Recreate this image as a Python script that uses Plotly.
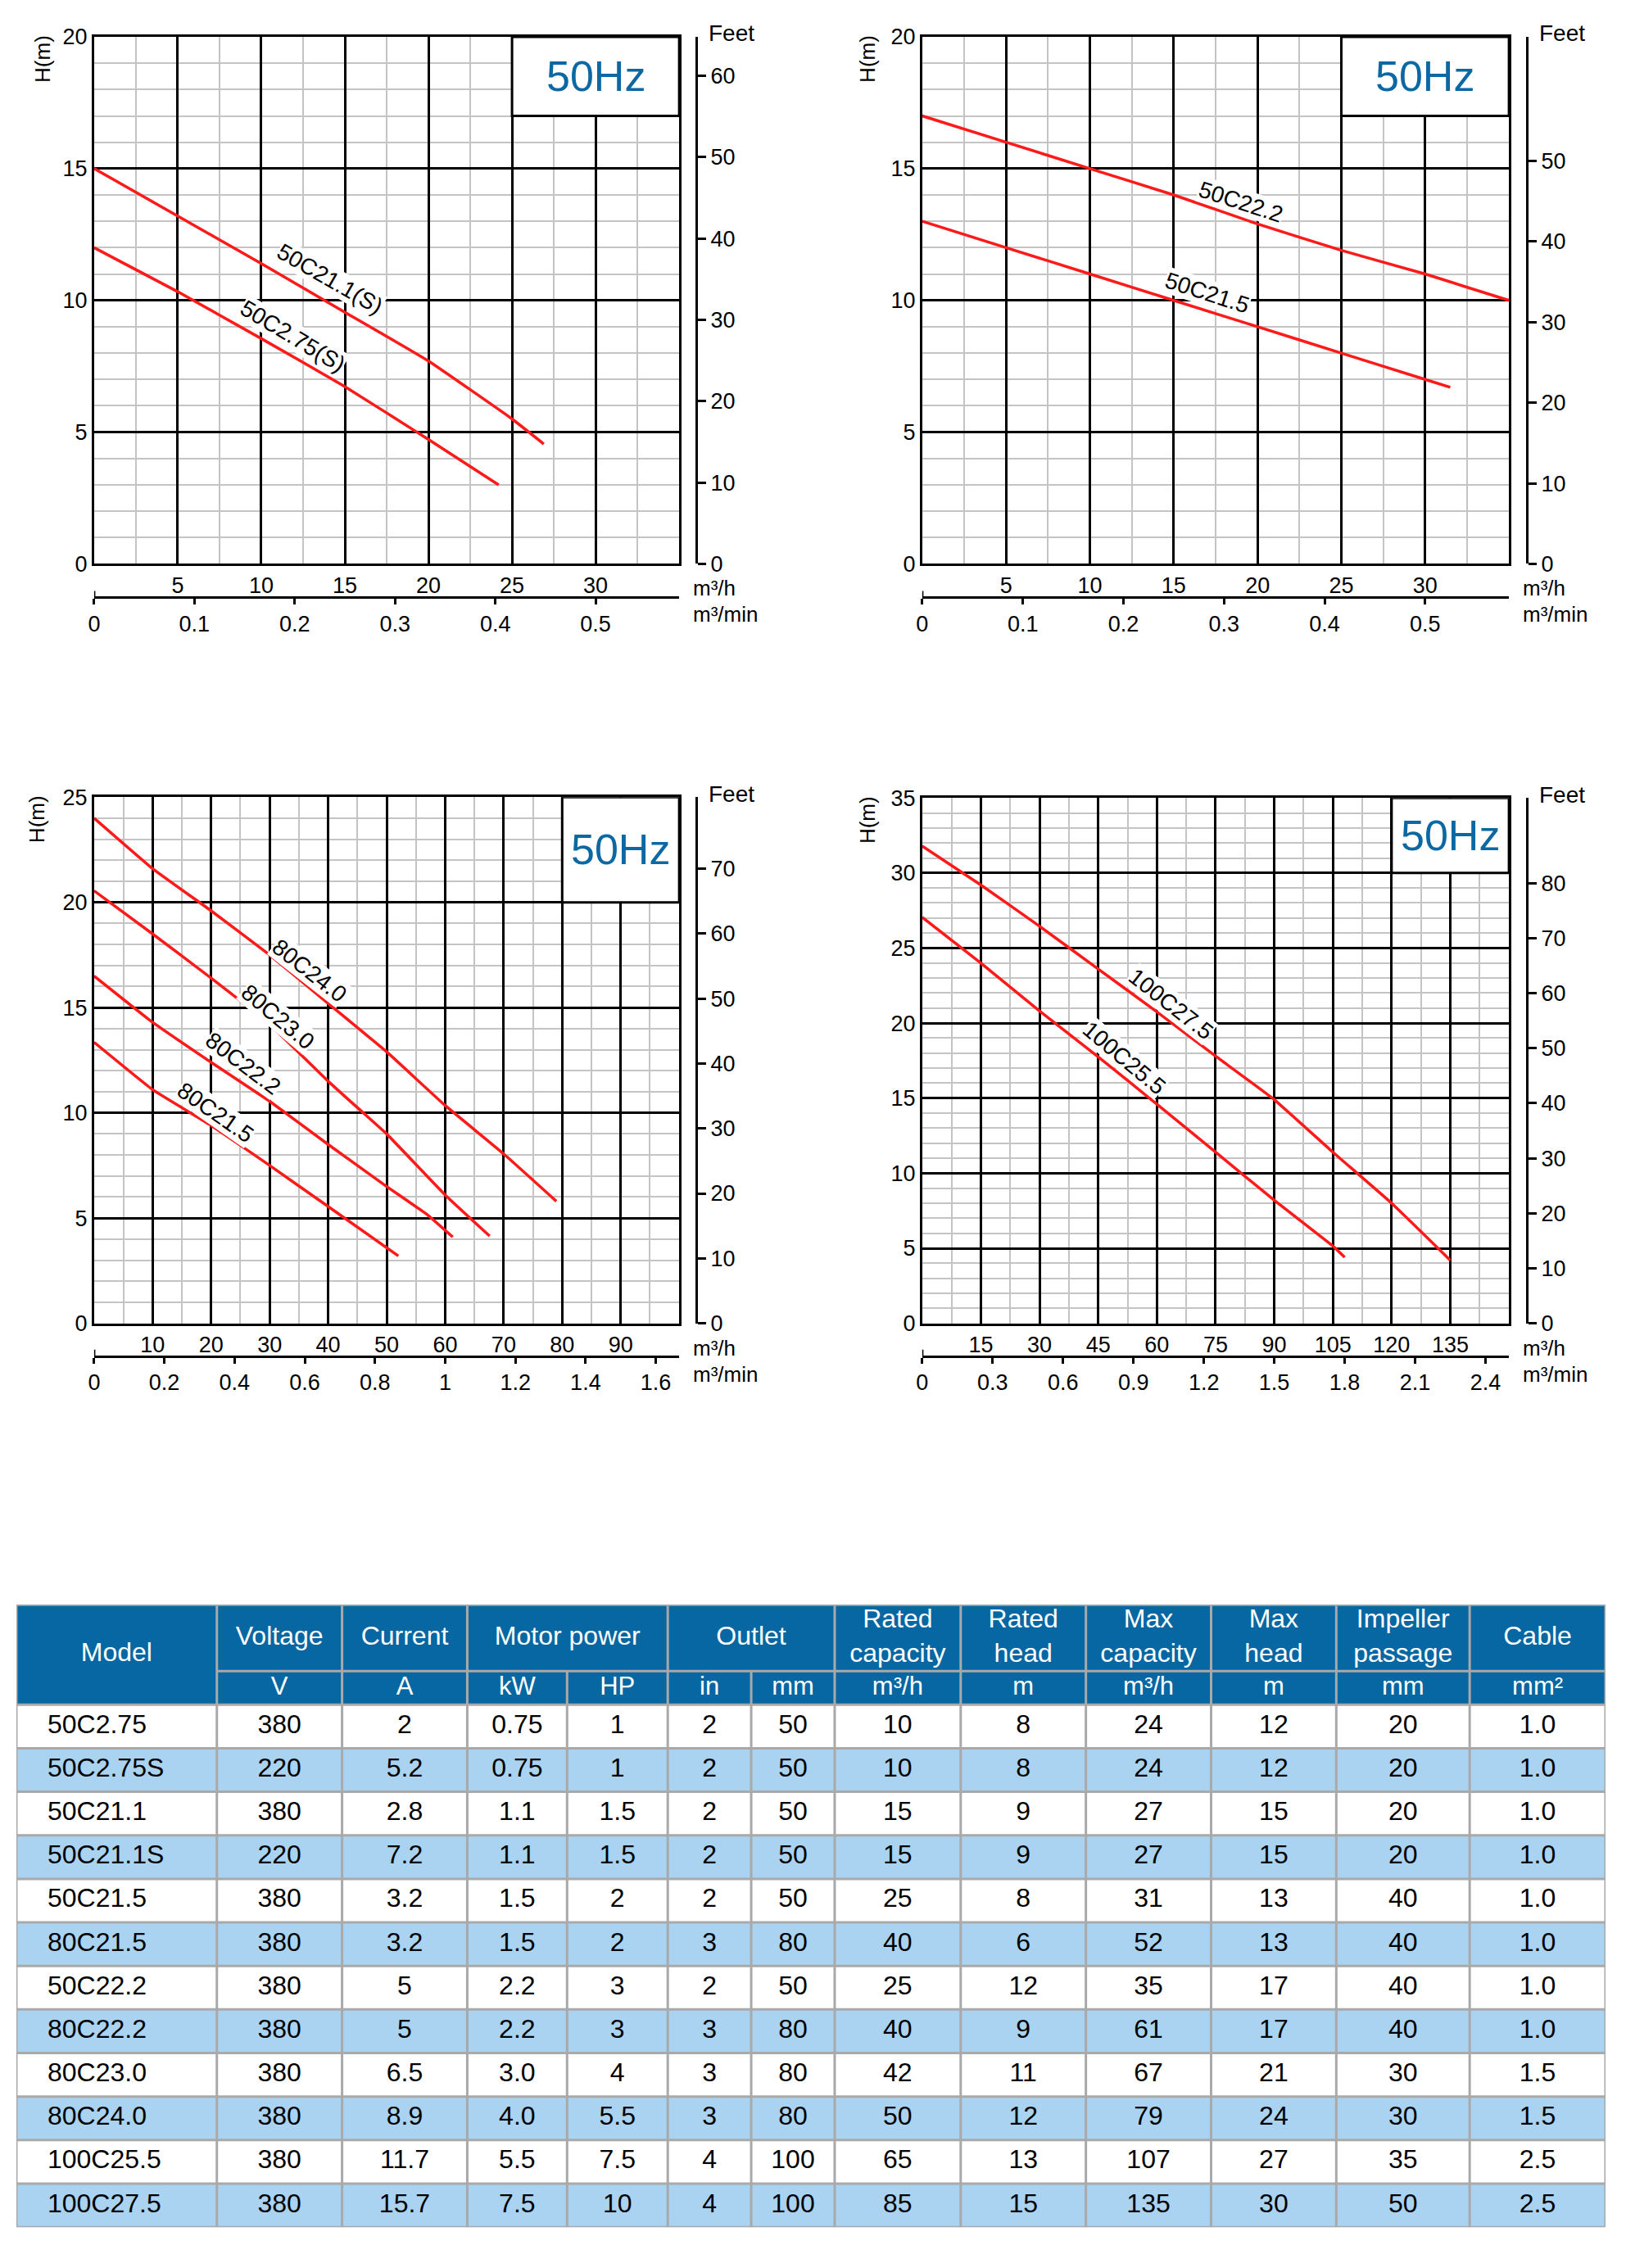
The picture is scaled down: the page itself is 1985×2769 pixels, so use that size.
import plotly.graph_objects as go

W, H = 1985, 2769
# page placement correction (html body margin / screenshot framing)
X_SHIFT, X_SCALE = 16, 0.997
Y_SHIFT, Y_SCALE = 20, 0.99
FONT = "Liberation Sans, Arial, sans-serif"
RED = "#ff1a1a"
HZ_BLUE = "#0b68a3"
HEAD_BLUE = "#0767a2"
ROW_BLUE = "#a9d3f1"
GRID_GRAY = "#c4c4c4"
CELL_LINE = "#a9a9a9"

# ---- pump curves (flow m3/h, head m) ----
Q_50C21_1 = [0, 5, 10, 15, 20, 25, 26.9]
H_50C21_1 = [15, 13.2, 11.4, 9.55, 7.7, 5.5, 4.55]
Q_50C2_75 = [0, 5, 10, 15, 20, 24.2]
H_50C2_75 = [12, 10.33, 8.55, 6.73, 4.72, 3.0]

Q_50C22_2 = [0, 5, 10, 15, 20, 25, 30, 35]
H_50C22_2 = [17, 16, 15, 14, 12.9, 11.9, 11, 10]
Q_50C21_5 = [0, 5, 10, 15, 20, 25, 30, 31.5]
H_50C21_5 = [13, 12, 11, 10, 9, 8, 7, 6.7]

Q_80C24_0 = [0, 10, 20, 30, 40, 50, 60, 70, 79]
H_80C24_0 = [24, 21.6, 19.6, 17.5, 15.2, 12.9, 10.35, 8.05, 5.8]
Q_80C23_0 = [0, 10, 20, 30, 40, 46, 50, 60, 67.6]
H_80C23_0 = [20.55, 18.5, 16.4, 14.2, 11.5, 10.0, 9.0, 6.1, 4.15]
Q_80C22_2 = [0, 10, 20, 30, 40, 50, 57, 61.3]
H_80C22_2 = [16.5, 14.3, 12.4, 10.55, 8.5, 6.5, 5.15, 4.1]
Q_80C21_5 = [0, 10, 20, 30, 40, 52]
H_80C21_5 = [13.35, 11.1, 9.4, 7.5, 5.55, 3.2]

Q_100C27_5 = [0, 15, 30, 45, 60, 75, 90, 105, 120, 135]
H_100C27_5 = [31.8, 29.2, 26.45, 23.6, 20.75, 17.8, 14.9, 11.4, 8.0, 4.2]
Q_100C25_5 = [0, 15, 30, 45, 60, 75, 90, 105, 108]
H_100C25_5 = [27.05, 24.0, 20.8, 17.75, 14.6, 11.4, 8.2, 5.15, 4.4]

# ---- axis ticks ----
QH_TICKS_A = [5, 10, 15, 20, 25, 30]
QM_TICKS_A = [0, 0.1, 0.2, 0.3, 0.4, 0.5]
H_TICKS_A = [0, 5, 10, 15, 20]
FT_TICKS_A = [0, 10, 20, 30, 40, 50, 60]
FT_TICKS_B = [0, 10, 20, 30, 40, 50]

QH_TICKS_C = [10, 20, 30, 40, 50, 60, 70, 80, 90]
QM_TICKS_C = [0, 0.2, 0.4, 0.6, 0.8, 1.0, 1.2, 1.4, 1.6]
H_TICKS_C = [0, 5, 10, 15, 20, 25]
FT_TICKS_C = [0, 10, 20, 30, 40, 50, 60, 70]

QH_TICKS_D = [15, 30, 45, 60, 75, 90, 105, 120, 135]
QM_TICKS_D = [0, 0.3, 0.6, 0.9, 1.2, 1.5, 1.8, 2.1, 2.4]
H_TICKS_D = [0, 5, 10, 15, 20, 25, 30, 35]
FT_TICKS_D = [0, 10, 20, 30, 40, 50, 60, 70, 80]

# ---- table data ----
MODEL = ["50C2.75", "50C2.75S", "50C21.1", "50C21.1S", "50C21.5", "80C21.5",
         "50C22.2", "80C22.2", "80C23.0", "80C24.0", "100C25.5", "100C27.5"]
VOLTAGE = [380, 220, 380, 220, 380, 380, 380, 380, 380, 380, 380, 380]
CURRENT = ["2", "5.2", "2.8", "7.2", "3.2", "3.2", "5", "5", "6.5", "8.9", "11.7", "15.7"]
POWER_KW = ["0.75", "0.75", "1.1", "1.1", "1.5", "1.5", "2.2", "2.2", "3.0", "4.0", "5.5", "7.5"]
POWER_HP = ["1", "1", "1.5", "1.5", "2", "2", "3", "3", "4", "5.5", "7.5", "10"]
OUTLET_IN = [2, 2, 2, 2, 2, 3, 2, 3, 3, 3, 4, 4]
OUTLET_MM = [50, 50, 50, 50, 50, 80, 50, 80, 80, 80, 100, 100]
RATED_CAP = [10, 10, 15, 15, 25, 40, 25, 40, 42, 50, 65, 85]
RATED_HEAD = [8, 8, 9, 9, 8, 6, 12, 9, 11, 12, 13, 15]
MAX_CAP = [24, 24, 27, 27, 31, 52, 35, 61, 67, 79, 107, 135]
MAX_HEAD = [12, 12, 15, 15, 13, 13, 17, 17, 21, 24, 27, 30]
IMPELLER = [20, 20, 20, 20, 40, 40, 40, 40, 30, 30, 35, 50]
CABLE = ["1.0", "1.0", "1.0", "1.0", "1.0", "1.0", "1.0", "1.0", "1.5", "1.5", "2.5", "2.5"]

HEADER_TOP = ["Model", "Voltage", "Current", "Motor power", "Outlet", "Rated<br>capacity",
              "Rated<br>head", "Max<br>capacity", "Max<br>head", "Impeller<br>passage", "Cable"]
HEADER_SPAN = [1, 1, 1, 2, 2, 1, 1, 1, 1, 1, 1]
HEADER_UNITS = ["", "V", "A", "kW", "HP", "in", "mm", "m³/h", "m", "m³/h", "m", "mm", "mm²"]

CHARTS = [
    dict(plot=(115, 830, 42, 686), feet_x=851, min_y=727, xmax=35, xminor=2.5, ymax=20,
         feet_max=64.8, qh=QH_TICKS_A, qm=QM_TICKS_A, h=H_TICKS_A, ft=FT_TICKS_A,
         box=(25, 35, 17, 20), hm_dx=-63,
         curves=[("50C21.1(S)", Q_50C21_1, H_50C21_1, 14.1, 10.8, 30),
                 ("50C2.75(S)", Q_50C2_75, H_50C2_75, 11.9, 8.65, 31)]),
    dict(plot=(1127, 1844, 42, 686), feet_x=1866, min_y=727, xmax=35, xminor=2.5, ymax=20,
         feet_max=65.4, qh=QH_TICKS_A, qm=QM_TICKS_A, h=H_TICKS_A, ft=FT_TICKS_B,
         box=(25, 35, 17, 20), hm_dx=-67,
         curves=[("50C22.2", Q_50C22_2, H_50C22_2, 19.0, 13.75, 18),
                 ("50C21.5", Q_50C21_5, H_50C21_5, 17.0, 10.3, 18)]),
    dict(plot=(115, 830, 971, 1614), feet_x=851, min_y=1654, xmax=100, xminor=5, ymax=25,
         feet_max=81, qh=QH_TICKS_C, qm=QM_TICKS_C, h=H_TICKS_C, ft=FT_TICKS_C,
         box=(80, 100, 20, 25), hm_dx=-70,
         curves=[("80C24.0", Q_80C24_0, H_80C24_0, 36.9, 16.75, 38),
                 ("80C23.0", Q_80C23_0, H_80C23_0, 31.4, 14.55, 40),
                 ("80C22.2", Q_80C22_2, H_80C22_2, 25.5, 12.35, 37),
                 ("80C21.5", Q_80C21_5, H_80C21_5, 20.8, 10.0, 35)]),
    dict(plot=(1127, 1844, 972, 1614), feet_x=1866, min_y=1654, xmax=150, xminor=7.5, ymax=35,
         feet_max=95.5, qh=QH_TICKS_D, qm=QM_TICKS_D, h=H_TICKS_D, ft=FT_TICKS_D,
         box=(120, 150, 30, 35), hm_dx=-67,
         curves=[("100C27.5", Q_100C27_5, H_100C27_5, 63.5, 21.3, 38),
                 ("100C25.5", Q_100C25_5, H_100C25_5, 51.6, 17.7, 40)]),
]


def fx(p):
    return ((p - X_SHIFT) / X_SCALE) / W


def fy(p):
    return 1 - ((p - Y_SHIFT) / Y_SCALE) / H


def ax(prefix, i):
    return prefix if i == 1 else f"{prefix}{i}"


fig = go.Figure()
layout = {}
shapes = []
annotations = []
tick_font = dict(family=FONT, size=27, color="black")

for k, c in enumerate(CHARTS):
    m, s = 2 * k + 1, 2 * k + 2
    L, R, T, B = c["plot"]

    for name, q, h, lx, ly, ang in c["curves"]:
        fig.add_trace(go.Scatter(x=q, y=h, mode="lines", name=name,
                                 line=dict(color=RED, width=3.5, shape="spline", smoothing=0.3),
                                 xaxis=ax("x", m), yaxis=ax("y", m),
                                 showlegend=False, hoverinfo="skip"))
        annotations.append(dict(text=name, x=lx, y=ly, xref=ax("x", m), yref=ax("y", m),
                                textangle=ang, showarrow=False, bgcolor="white",
                                borderpad=0, font=dict(family=FONT, size=28, color="black")))

    # dummy trace so the feet / m3-min axes get drawn
    fig.add_trace(go.Scatter(x=[None], y=[None], xaxis=ax("x", s), yaxis=ax("y", s),
                             showlegend=False, hoverinfo="skip"))

    layout[ax("xaxis", m)] = dict(
        domain=[fx(L), fx(R)], anchor=ax("y", m), range=[0, c["xmax"]],
        tickmode="array", tickvals=c["qh"], ticks="", tickfont=tick_font,
        showgrid=True, gridcolor="black", gridwidth=3, zeroline=False,
        minor=dict(tickmode="linear", tick0=0, dtick=c["xminor"], showgrid=True,
                   gridcolor=GRID_GRAY, gridwidth=2),
        showline=True, mirror=True, linecolor="black", linewidth=3, fixedrange=True)
    layout[ax("yaxis", m)] = dict(
        domain=[fy(B), fy(T)], anchor=ax("x", m), range=[0, c["ymax"]],
        tickmode="array", tickvals=c["h"], ticks="", tickfont=tick_font,
        showgrid=True, gridcolor="black", gridwidth=3, zeroline=False,
        minor=dict(tickmode="linear", tick0=0, dtick=1, showgrid=True,
                   gridcolor=GRID_GRAY, gridwidth=2),
        showline=True, mirror=True, linecolor="black", linewidth=3, fixedrange=True)
    layout[ax("yaxis", s)] = dict(
        overlaying=ax("y", m), side="right", anchor="free", position=fx(c["feet_x"]),
        range=[0, c["feet_max"]], tickmode="array", tickvals=c["ft"],
        ticks="outside", ticklen=10, tickwidth=3, tickcolor="black", tickfont=tick_font,
        showline=True, linecolor="black", linewidth=3, showgrid=False, zeroline=False,
        fixedrange=True)
    layout[ax("xaxis", s)] = dict(
        overlaying=ax("x", m), side="bottom", anchor="free", position=fy(c["min_y"]),
        range=[0, c["xmax"] / 60], tickmode="array", tickvals=c["qm"],
        ticks="outside", ticklen=7, tickwidth=3, tickcolor="black", tickfont=tick_font,
        showline=True, linecolor="black", linewidth=3, showgrid=False, zeroline=False,
        fixedrange=True)
    # short upward tick at the origin of the m3/min scale
    shapes.append(dict(type="line", xref=ax("x", s), yref="paper", x0=0, x1=0,
                       y0=fy(c["min_y"]), y1=fy(c["min_y"] - 8),
                       line=dict(color="black", width=3)))

    bx0, bx1, by0, by1 = c["box"]
    shapes.append(dict(type="rect", xref=ax("x", m), yref=ax("y", m), x0=bx0, x1=bx1,
                       y0=by0, y1=by1, fillcolor="white", line=dict(color="black", width=3),
                       layer="between"))
    annotations.append(dict(text="50Hz", x=(bx0 + bx1) / 2, y=(by0 + by1) / 2,
                            xref=ax("x", m), yref=ax("y", m), showarrow=False,
                            font=dict(family=FONT, size=52, color=HZ_BLUE)))

    annotations += [
        dict(text="Feet", x=fx(c["feet_x"] + 43), y=fy(T - 4), xref="paper", yref="paper",
             showarrow=False, xanchor="center", yanchor="middle",
             font=dict(family=FONT, size=28, color="black")),
        dict(text="H(m)", x=fx(L + c["hm_dx"]), y=fy(T + 27), xref="paper", yref="paper",
             showarrow=False, textangle=-90, xanchor="center", yanchor="middle",
             font=dict(family=FONT, size=26, color="black")),
        dict(text="m³/h", x=fx(R + 15), y=fy(B + 30), xref="paper", yref="paper",
             showarrow=False, xanchor="left", yanchor="middle",
             font=dict(family=FONT, size=26, color="black")),
        dict(text="m³/min", x=fx(R + 15), y=fy(B + 62), xref="paper", yref="paper",
             showarrow=False, xanchor="left", yanchor="middle",
             font=dict(family=FONT, size=26, color="black")),
    ]

# ---------------- specification table ----------------
COL_EDGES = [20, 265, 418, 571, 693, 816, 918, 1020, 1174, 1327, 1480, 1633, 1796, 1962]
T_TOP, T_H1, T_H2, ROW_H = 1958, 2039, 2080, 53.2
T_BOT = T_H2 + ROW_H * len(MODEL)

layout["xaxis9"] = dict(domain=[fx(COL_EDGES[0]), fx(COL_EDGES[-1])], anchor="y9",
                        range=[COL_EDGES[0], COL_EDGES[-1]], visible=False, fixedrange=True)
layout["yaxis9"] = dict(domain=[fy(T_BOT), fy(T_TOP)], anchor="x9",
                        range=[T_BOT, T_TOP], visible=False, fixedrange=True)

tbl = dict(xref="x9", yref="y9")
shapes.append(dict(type="rect", x0=COL_EDGES[0], x1=COL_EDGES[-1], y0=T_TOP, y1=T_H2,
                   fillcolor=HEAD_BLUE, line=dict(width=0), layer="below", **tbl))
for r in range(len(MODEL)):
    y0 = T_H2 + r * ROW_H
    shapes.append(dict(type="rect", x0=COL_EDGES[0], x1=COL_EDGES[-1], y0=y0, y1=y0 + ROW_H,
                       fillcolor=ROW_BLUE if r % 2 else "white", line=dict(width=0),
                       layer="below", **tbl))

line_style = dict(color=CELL_LINE, width=3)
for j in range(1, len(COL_EDGES) - 1):
    y_start = T_H1 if j in (4, 6) else T_TOP
    shapes.append(dict(type="line", x0=COL_EDGES[j], x1=COL_EDGES[j], y0=y_start, y1=T_BOT,
                       line=line_style, **tbl))
shapes.append(dict(type="line", x0=COL_EDGES[1], x1=COL_EDGES[-1], y0=T_H1, y1=T_H1,
                   line=line_style, **tbl))
for r in range(len(MODEL)):
    yy = T_H2 + r * ROW_H
    shapes.append(dict(type="line", x0=COL_EDGES[0], x1=COL_EDGES[-1], y0=yy, y1=yy,
                       line=line_style, **tbl))
shapes.append(dict(type="rect", x0=COL_EDGES[0], x1=COL_EDGES[-1], y0=T_TOP, y1=T_BOT,
                   line=line_style, **tbl))

# header text
hx, hy, ht = [], [], []
col = 0
for label, span in zip(HEADER_TOP, HEADER_SPAN):
    hx.append((COL_EDGES[col] + COL_EDGES[col + span]) / 2)
    hy.append((T_TOP + T_H2) / 2 if col == 0 else (T_TOP + T_H1) / 2)
    ht.append(label)
    col += span
fig.add_trace(go.Scatter(x=hx, y=hy, text=ht, mode="text", textposition="middle center",
                         textfont=dict(family=FONT, size=32, color="white"),
                         xaxis="x9", yaxis="y9", showlegend=False, hoverinfo="skip",
                         cliponaxis=False))
ux = [(COL_EDGES[j] + COL_EDGES[j + 1]) / 2 for j in range(1, len(HEADER_UNITS))]
uy = [(T_H1 + T_H2) / 2] * len(ux)
fig.add_trace(go.Scatter(x=ux, y=uy, text=HEADER_UNITS[1:], mode="text",
                         textposition="middle center",
                         textfont=dict(family=FONT, size=31, color="white"),
                         xaxis="x9", yaxis="y9", showlegend=False, hoverinfo="skip",
                         cliponaxis=False))

# body text
COLUMNS = [VOLTAGE, CURRENT, POWER_KW, POWER_HP, OUTLET_IN, OUTLET_MM, RATED_CAP,
           RATED_HEAD, MAX_CAP, MAX_HEAD, IMPELLER, CABLE]
row_y = [T_H2 + (r + 0.5) * ROW_H for r in range(len(MODEL))]
fig.add_trace(go.Scatter(x=[COL_EDGES[0] + 38] * len(MODEL), y=row_y, text=MODEL,
                         mode="text", textposition="middle right",
                         textfont=dict(family=FONT, size=32, color="black"),
                         xaxis="x9", yaxis="y9", showlegend=False, hoverinfo="skip",
                         cliponaxis=False))
bx, by, bt = [], [], []
for j, values in enumerate(COLUMNS, start=1):
    xc = (COL_EDGES[j] + COL_EDGES[j + 1]) / 2
    for r, v in enumerate(values):
        bx.append(xc)
        by.append(row_y[r])
        bt.append(str(v))
fig.add_trace(go.Scatter(x=bx, y=by, text=bt, mode="text", textposition="middle center",
                         textfont=dict(family=FONT, size=32, color="black"),
                         xaxis="x9", yaxis="y9", showlegend=False, hoverinfo="skip",
                         cliponaxis=False))

fig.update_layout(
    width=W, height=H,
    margin=dict(l=0, r=0, t=0, b=0),
    paper_bgcolor="white", plot_bgcolor="white",
    font=dict(family=FONT, color="black"),
    showlegend=False,
    shapes=shapes,
    annotations=annotations,
    **layout,
)

fig.write_html("out.html")
